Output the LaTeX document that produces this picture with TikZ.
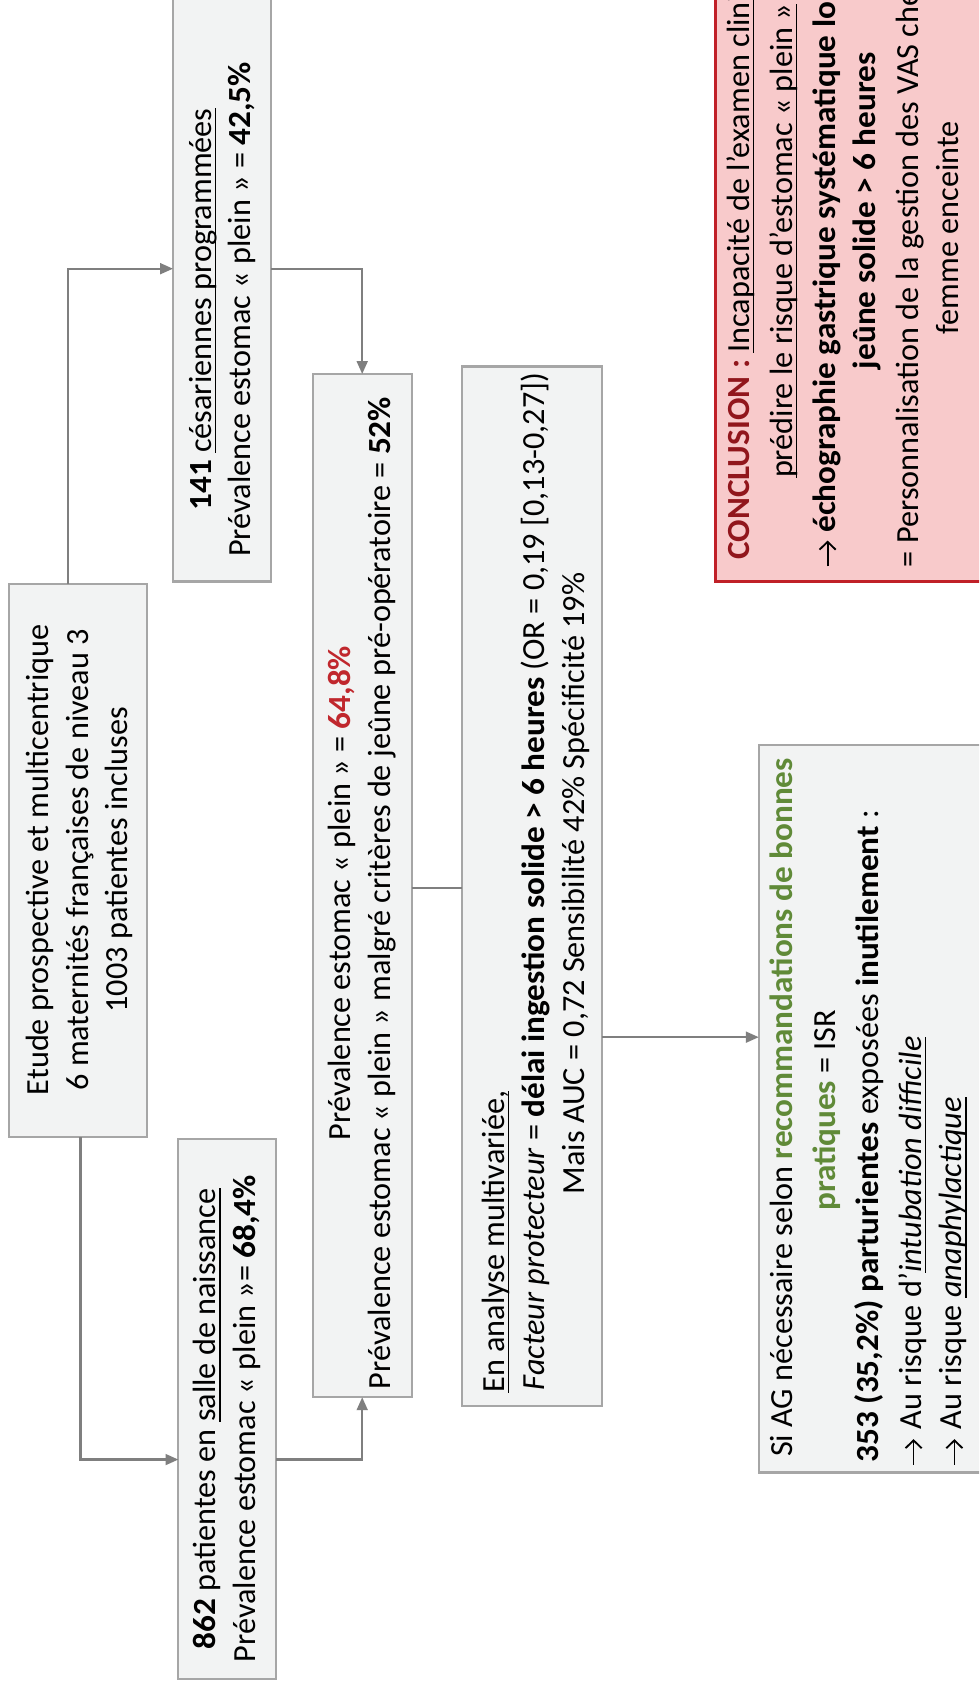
\documentclass[tikz,border=0pt]{standalone}
\usepackage{fontspec}
\setmainfont{Carlito}[BoldFeatures={FakeStretch=1.03}]
\newsavebox\ulbox
\newcommand{\myul}[1]{\sbox\ulbox{#1}\rlap{\rule[-2.4pt]{\wd\ulbox}{0.8pt}}\usebox\ulbox}
\usetikzlibrary{arrows.meta,calc}
\definecolor{boxfill}{RGB}{242,243,243}
\definecolor{boxline}{RGB}{166,166,166}
\definecolor{connc}{RGB}{127,127,127}
\definecolor{concfill}{RGB}{248,202,203}
\definecolor{concline}{RGB}{192,32,40}
\definecolor{concred}{RGB}{145,22,28}
\definecolor{redv}{RGB}{192,39,45}
\definecolor{greenv}{RGB}{96,138,56}
\begin{document}
\begin{tikzpicture}[x=0.5pt,y=-0.5pt,
  box/.style={draw=boxline,fill=boxfill,line width=1pt,inner sep=0pt,outer sep=0pt,rotate=90},
  conc/.style={draw=concline,fill=concfill,line width=1.3pt,inner sep=0pt,outer sep=0pt,rotate=90},
  txt/.style={rotate=90,inner sep=0pt,font=\fontsize{15}{18.5}\selectfont,align=center},
  ln/.style={txt,text height=10.5pt,text depth=3.5pt},
  conn/.style={draw=connc,line width=1.1pt},
  arr/.style={-{Triangle[length=6pt,width=5pt]}},
  txtarrow/.style={draw=black,line width=0.85pt,-{Straight Barb[length=3.6pt,width=7.5pt,line width=0.85pt]}}]
\useasboundingbox (0,0) rectangle (911,1578);
\fill[white] (0,0) rectangle (911,1578);
\clip (0,0) rectangle (911,1578);

% boxes
\node[box,minimum width=257.5pt,minimum height=64.5pt] (A) at (72.5,800.5) {};
\node[box,minimum width=291pt,minimum height=45.5pt] (B) at (206.5,250) {};
\node[box,minimum width=251pt,minimum height=45.5pt] (C) at (211.5,1311) {};
\node[box,minimum width=476pt,minimum height=46pt] (D) at (337,824) {};
\node[box,minimum width=483.5pt,minimum height=65pt] (E) at (495,824.5) {};
\node[box,minimum width=338.5pt,minimum height=147pt] (F) at (853,1031.5) {};
\node[conc,minimum width=345.5pt,minimum height=167pt] (G) at (833,195.5) {};

% texts
\node[txt] (At) at (74,800) {Etude prospective et multicentrique\\6 maternités françaises de niveau 3\\1003 patientes incluses};
\node[txt] (Bt) at (207,288) {\textbf{141} \myul{césariennes programmées}\\Prévalence estomac «~plein~» = \textbf{42,5\%}};
\node[txt] (Ct) at (211,1320) {\textbf{862} patientes en \myul{salle de naissance}\\Prévalence estomac «~plein~»= \textbf{68,4\%}};
\node[txt] (Dt) at (337,831) {Prévalence estomac «~plein~» = \textcolor{redv}{\textbf{64,8\%}}\\Prévalence estomac «~plein~» malgré critères de jeûne pré-opératoire = \textbf{52\%}};

\node[ln,anchor=west] (E1) at (462,1296) {\myul{En analyse multivariée,}};
\node[ln,anchor=west] (E2) at (500,1294) {\textit{Facteur protecteur} = \textbf{délai ingestion solide > 6 heures} (OR = 0,19 [0,13-0,27])};
\node[ln] (E3) at (537,822) {Mais AUC = 0,72 Sensibilité 42\% Spécificité 19\%};

\node[ln,anchor=west] (F1) at (730,1356) {Si AG nécessaire selon \textcolor{greenv}{\textbf{recommandations de bonnes}}};
\node[ln] (F2) at (770,1033) {\textcolor{greenv}{\textbf{pratiques}} = ISR};
\node[ln,anchor=west] (F3) at (810,1361) {\textbf{353 (35,2\%) parturientes} exposées \textbf{inutilement} :};
\node[ln,anchor=west] (F4) at (850,1330) {Au risque d’\myul{\textit{intubation difficile}}};
\node[ln,anchor=west] (F5) at (888,1330) {Au risque \myul{\textit{anaphylactique}}};
\draw[txtarrow] (850,1363) -- (850,1339);
\draw[txtarrow] (888,1363) -- (888,1339);

\node[ln,anchor=west] (G1) at (690,521) {\textcolor{concred}{\textbf{CONCLUSION :}} \myul{Incapacité de l’examen clinique à}};
\node[ln] (G2) at (730,224) {\myul{prédire le risque d’estomac «~plein~»}};
\node[ln,anchor=west] (G3) at (770,496) {\textbf{échographie gastrique systématique lors d’un}};
\draw[txtarrow] (770,527) -- (770,503);
\node[ln] (G4) at (808,196) {\textbf{jeûne solide > 6 heures}};
\node[ln,anchor=west] (G5) at (848,528) {= Personnalisation de la gestion des VAS chez la};
\node[ln] (G6) at (885,212) {femme enceinte};

% connectors
\draw[conn,arr] (A.east -| 63,0) |- (B.north |- 0,250);
\draw[conn,arr] (A.west -| 75,0) |- (C.north |- 0,1358);
\draw[conn,arr] (B.south |- 0,250) -| (D.east -| 337,0);
\draw[conn,arr] (C.south |- 0,1358) -| (D.west -| 337,0);
\draw[conn] (D.south |- 0,826) -- (E.north |- 0,826);
\draw[conn,arr] (E.south |- 0,965) -- (F.north |- 0,965);
\end{tikzpicture}
\end{document}
